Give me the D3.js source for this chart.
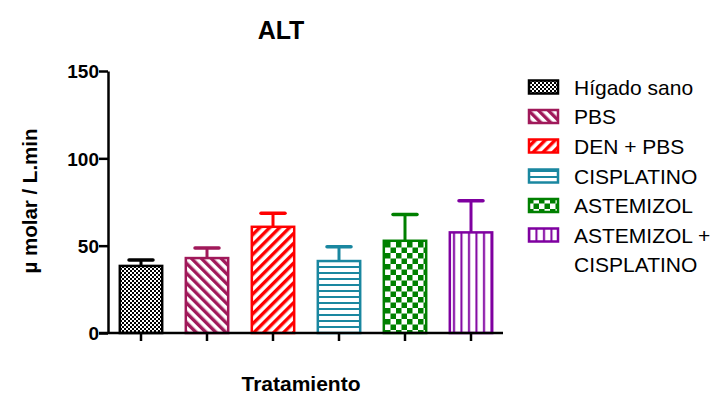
<!DOCTYPE html>
<html><head><meta charset="utf-8">
<script src="https://cdn.jsdelivr.net/npm/d3@7"></script>
<style>body{margin:0;background:#fff}text{font-family:"Liberation Sans",Arial,sans-serif}</style>
</head><body><svg id="c" width="713" height="394"></svg>
<script>
const categories = ["Hígado sano","PBS","DEN + PBS","CISPLATINO","ASTEMIZOL","ASTEMIZOL + CISPLATINO"];
const means = [38.4, 42.9, 60.8, 41.2, 52.8, 57.6];
const errors = [3.4, 5.7, 7.7, 8.2, 15.1, 18.1];
const colors = ["#000000","#a0195a","#ff0000","#1a87a0","#008000","#7f00a0"];
const patterns = ["fineCheck","diagDown","diagUp","horiz","bigCheck","vert"];
const yTicks = [0,50,100,150];

const svg = d3.select("#c");
const defs = svg.append("defs");
const yTop=71, yBot=333;
const y = d3.scaleLinear().domain([0,150]).range([yBot,yTop]);
const x = d3.scaleBand().domain(categories).range([108,504]).paddingInner(0.32).paddingOuter(0.16);

function makePattern(id, type, color){
  let p;
  if(type==="fineCheck"){
    p=defs.append("pattern").attr("id",id).attr("patternUnits","userSpaceOnUse").attr("width",4).attr("height",4);
    p.append("rect").attr("width",4).attr("height",4).attr("fill","#fff");
    p.append("rect").attr("width",2).attr("height",2).attr("fill",color);
    p.append("rect").attr("x",2).attr("y",2).attr("width",2).attr("height",2).attr("fill",color);
  } else if(type==="bigCheck"){
    p=defs.append("pattern").attr("id",id).attr("patternUnits","userSpaceOnUse").attr("width",11).attr("height",11);
    p.append("rect").attr("width",11).attr("height",11).attr("fill","#fff");
    p.append("rect").attr("width",5.5).attr("height",5.5).attr("fill",color);
    p.append("rect").attr("x",5.5).attr("y",5.5).attr("width",5.5).attr("height",5.5).attr("fill",color);
  } else if(type==="diagDown"||type==="diagUp"){
    p=defs.append("pattern").attr("id",id).attr("patternUnits","userSpaceOnUse").attr("width",7).attr("height",7)
      .attr("patternTransform","rotate("+(type==="diagDown"?-45:45)+")");
    p.append("rect").attr("width",7).attr("height",7).attr("fill","#fff");
    p.append("rect").attr("width",3.4).attr("height",7).attr("fill",color);
  } else if(type==="horiz"){
    p=defs.append("pattern").attr("id",id).attr("patternUnits","userSpaceOnUse").attr("width",6).attr("height",6);
    p.append("rect").attr("width",6).attr("height",6).attr("fill","#fff");
    p.append("rect").attr("y",2).attr("width",6).attr("height",2).attr("fill",color);
  } else if(type==="vert"){
    p=defs.append("pattern").attr("id",id).attr("patternUnits","userSpaceOnUse").attr("width",7.5).attr("height",7.5);
    p.append("rect").attr("width",7.5).attr("height",7.5).attr("fill","#fff");
    p.append("rect").attr("x",3).attr("width",2).attr("height",7.5).attr("fill",color);
  }
}
categories.forEach((c,i)=>makePattern("p"+i,patterns[i],colors[i]));

const g = svg.append("g");
categories.forEach((c,i)=>{
  const cx = x(c)+x.bandwidth()/2;
  g.append("line").attr("x1",cx).attr("x2",cx).attr("y1",y(means[i])).attr("y2",y(means[i]+errors[i]))
    .attr("stroke",colors[i]).attr("stroke-width",3);
  g.append("line").attr("x1",cx-12).attr("x2",cx+12).attr("y1",y(means[i]+errors[i])).attr("y2",y(means[i]+errors[i]))
    .attr("stroke",colors[i]).attr("stroke-width",3.5).attr("stroke-linecap","round");
});
categories.forEach((c,i)=>{
  g.append("rect").attr("x",x(c)+1.25).attr("y",y(means[i])).attr("width",x.bandwidth()-2.5)
   .attr("height",yBot-y(means[i])).attr("fill","url(#p"+i+")").attr("stroke",colors[i]).attr("stroke-width",2.5);
});

const ya = svg.append("g").attr("transform","translate(108,0)")
  .call(d3.axisLeft(y).tickValues(yTicks).tickSize(9).tickSizeOuter(0));
ya.select(".domain").attr("stroke-width",2.5);
ya.selectAll(".tick line").attr("stroke-width",2.5);
ya.selectAll(".tick text").attr("font-size",19).attr("font-weight","bold").attr("x",-9).attr("dy","0.36em")
  .attr("font-family","Liberation Sans, Arial, sans-serif");

const xa = svg.append("g").attr("transform","translate(0,"+yBot+")")
  .call(d3.axisBottom(x).tickSize(8).tickSizeOuter(0).tickFormat(""));
xa.select(".domain").attr("d","M99,0H503").attr("stroke-width",2.5);
xa.selectAll(".tick line").attr("stroke-width",2.5);

svg.append("text").attr("x",281).attr("y",39).attr("text-anchor","middle").attr("font-size",25).attr("font-weight","bold").text("ALT");
svg.append("text").attr("x",301).attr("y",391).attr("text-anchor","middle").attr("font-size",21).attr("font-weight","bold").text("Tratamiento");
svg.append("text").attr("transform","translate(37,201) rotate(-90)").attr("text-anchor","middle").attr("font-size",20.5).attr("font-weight","bold").text("µ molar / L.min");

const lg = svg.append("g");
const rowY = [87,116.5,146,176,205.5,235];
categories.forEach((c,i)=>{
  lg.append("rect").attr("x",529).attr("y",rowY[i]-6.5).attr("width",29).attr("height",13)
    .attr("fill","url(#p"+i+")").attr("stroke",colors[i]).attr("stroke-width",2.5);
  const parts = c==="ASTEMIZOL + CISPLATINO" ? ["ASTEMIZOL +","CISPLATINO"] : [c];
  parts.forEach((t,j)=>{
    lg.append("text").attr("x",574).attr("y",rowY[i]+7.5+j*29).attr("font-size",21).text(t);
  });
});
</script></body></html>
